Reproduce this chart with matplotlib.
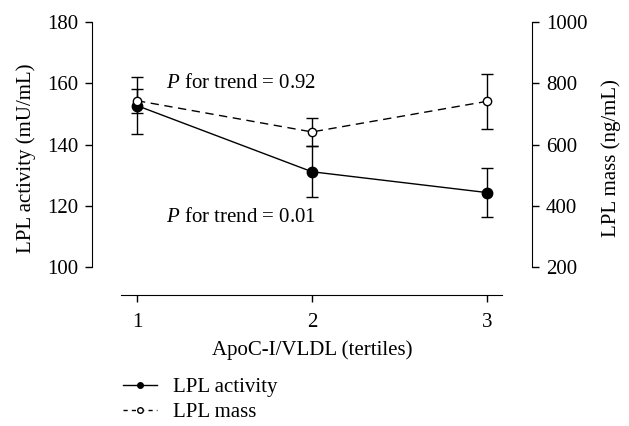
import matplotlib.pyplot as plt
from matplotlib.lines import Line2D

plt.rcParams['font.family'] = ['Liberation Serif', 'DejaVu Serif']
plt.rcParams['font.size'] = 15
plt.rcParams['mathtext.fontset'] = 'custom'
plt.rcParams['mathtext.it'] = 'Liberation Serif:italic'
plt.rcParams['mathtext.rm'] = 'Liberation Serif'

tertiles = [1, 2, 3]
activity = [152.7, 131.1, 124.3]
activity_err = [9.2, 8.4, 8.0]
mass = [743, 641, 741]
mass_err = [39, 45, 90]

W, H = 629, 426
fig = plt.figure(figsize=(W / 100, H / 100), dpi=100)

# axes box in pixels: left 92, right 532, top 22, bottom 295
ax = fig.add_axes([92 / W, 1 - 295 / H, (532 - 92) / W, (295 - 22) / H])
ax2 = ax.twinx()

px_per_unit = 245 / 80
ax.set_xlim(0.743, 3.257)
ax.set_ylim(100 - 28 / px_per_unit, 180)
ax2.set_ylim(200 - 28 * 10 / px_per_unit, 1000)

ax.errorbar(tertiles, activity, yerr=activity_err, color='black', lw=1,
            marker='o', ms=7.5, mfc='black', capsize=4, elinewidth=1, zorder=3)
ax2.errorbar(tertiles, mass, yerr=mass_err, color='black', lw=1, ls=(0, (6, 4)),
             marker='o', ms=6, mfc='white', capsize=4, elinewidth=1, zorder=3)

ax.spines['top'].set_visible(False)
ax.spines['right'].set_visible(False)
ax.spines['left'].set_bounds(100, 180)
ax.spines['bottom'].set_bounds(0.909, 3.086)
for s in ['top', 'left', 'bottom']:
    ax2.spines[s].set_visible(False)
ax2.spines['right'].set_bounds(200, 1000)

ax.set_yticks([100, 120, 140, 160, 180])
ax2.set_yticks([200, 400, 600, 800, 1000])
ax.set_xticks(tertiles)
ax.tick_params(direction='out', length=5, width=1, pad=5)
ax2.tick_params(direction='out', length=5, width=1, pad=5)
ax.tick_params(axis='x', pad=8)

ax.set_ylabel('LPL activity (mU/mL)', labelpad=8)
ax2.set_ylabel('LPL mass (ng/mL)', labelpad=10)
ax.set_xlabel('ApoC-I/VLDL (tertiles)', labelpad=6)

ax.text(1.166, 160, r'$\it{P}$ for trend = 0.92', va='center', ha='left')
ax.text(1.166, 116.3, r'$\it{P}$ for trend = 0.01', va='center', ha='left')

handles = [Line2D([], [], color='black', lw=1, marker='o', ms=4, mfc='black'),
           Line2D([], [], color='black', lw=1, ls=(0, (3, 3)), marker='o', ms=4, mfc='white')]
fig.legend(handles, ['LPL activity', 'LPL mass'], loc='upper left',
           bbox_to_anchor=(113 / W, 1 - 367 / H), frameon=False,
           handlelength=1.6, handletextpad=0.8, labelspacing=0.25, borderpad=0)

fig.savefig('out.png', dpi=100)
